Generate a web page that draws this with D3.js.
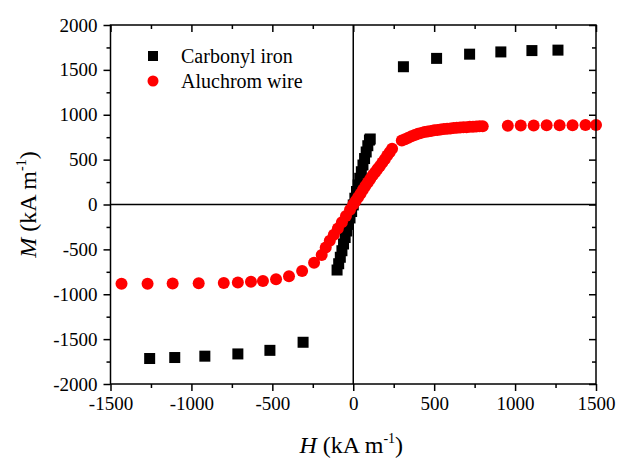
<!DOCTYPE html>
<html>
<head>
<meta charset="utf-8">
<script src="https://cdn.jsdelivr.net/npm/d3@7"></script>
<style>
  html, body { margin: 0; padding: 0; background: #fff; }
  svg text { font-family: "Liberation Serif", "Times New Roman", serif; fill: #000; }
</style>
</head>
<body>
<svg id="chart" width="619" height="458"></svg>
<script>
// Magnetisation curves M(H)

// Carbonyl iron: field H (kA/m) and magnetisation M (kA/m)
const ironH = [-1258, -1103, -917, -713, -515, -310,
  -100, -90, -80, -70, -60, -50, -40, -30, -20, -10, 0,
  10, 20, 30, 40, 50, 60, 70, 80, 90, 100, 105,
  310, 515, 719, 912, 1104, 1265];
const ironM = [-1716, -1705, -1690, -1665, -1625, -1535,
  -730, -660, -588, -515, -440, -368, -295, -222, -150, -78, -5,
  70, 145, 218, 292, 365, 440, 512, 585, 655, 718, 730,
  1535, 1628, 1675, 1700, 1715, 1720];

// Aluchrom wire
const wireH = [-1432, -1271, -1116, -955, -800, -713, -632, -558, -477, -397, -316, -242,
  -195, -170, -145, -120, -95, -70, -45, -20,
  0, 15, 30, 45, 60, 75, 90, 105, 120, 135, 150, 165, 180, 195, 210, 225, 240,
  300, 320, 340, 360, 380, 400, 420, 440, 460, 480, 500, 520, 540, 560, 580, 600,
  620, 640, 660, 680, 700, 720, 740, 760, 780, 800,
  955, 1035, 1115, 1195, 1275, 1355, 1435, 1500];
const wireM = [-882, -882, -880, -878, -874, -868, -862, -853, -834, -800, -740, -648,
  -562, -478, -405, -338, -268, -198, -128, -58,
  0, 40, 80, 120, 165, 205, 245, 285, 325, 360, 395, 430, 468, 505, 545, 582, 622,
  712, 728, 745, 760, 775, 788, 798, 807, 814, 820, 826, 831, 836, 840, 844, 848,
  851, 854, 857, 860, 862, 865, 867, 869, 871, 872,
  878, 880, 881, 882, 883, 884, 885, 886];

// Axis ticks
const xMajor = [-1500, -1000, -500, 0, 500, 1000, 1500];
const xMinor = [-1250, -750, -250, 250, 750, 1250];
const yMajor = [-2000, -1500, -1000, -500, 0, 500, 1000, 1500, 2000];
const yMinor = [-1750, -1250, -750, -250, 250, 750, 1250, 1750];

const seriesNames = ["Carbonyl iron", "Aluchrom wire"];
const seriesColors = ["#000000", "#ff0000"];

const serif = '"Liberation Serif", "Times New Roman", serif';
const svg = d3.select("#chart");
const pL = 110.5, pR = 596, pT = 25, pB = 384;

const x = d3.scaleLinear().domain([-1500, 1500]).range([pL, pR]);
const y = d3.scaleLinear().domain([-2000, 2000]).range([pB, pT]);

const fmt = d => String(d);

// zero lines
svg.append("line").attr("x1", pL).attr("x2", pR)
  .attr("y1", y(0)).attr("y2", y(0)).attr("stroke", "#000").attr("stroke-width", 1.5);
svg.append("line").attr("x1", x(0)).attr("x2", x(0))
  .attr("y1", pT).attr("y2", pB).attr("stroke", "#000").attr("stroke-width", 1.5);

// data marks
const plot = svg.append("g");
const sq = 11;
plot.selectAll("rect.iron").data(d3.range(ironH.length)).join("rect")
  .attr("class", "iron")
  .attr("x", i => x(ironH[i]) - sq / 2)
  .attr("y", i => y(ironM[i]) - sq / 2)
  .attr("width", sq).attr("height", sq)
  .attr("fill", seriesColors[0]);

plot.selectAll("circle.wire").data(d3.range(wireH.length)).join("circle")
  .attr("class", "wire")
  .attr("cx", i => x(wireH[i]))
  .attr("cy", i => y(wireM[i]))
  .attr("r", 6)
  .attr("fill", seriesColors[1]);

// axes
function styleAxis(g) {
  g.attr("font-family", null).attr("font-size", null);
  g.select(".domain").remove();
  g.selectAll(".tick line").attr("stroke", "#000").attr("stroke-width", 1.5);
  g.selectAll(".tick text").style("font-size", "19px").style("font-family", serif);
}

const gx = svg.append("g").attr("transform", `translate(0,${pB})`)
  .call(d3.axisBottom(x).tickValues(xMajor).tickSizeInner(7).tickSizeOuter(0).tickPadding(6).tickFormat(fmt));
styleAxis(gx);
const gxm = svg.append("g").attr("transform", `translate(0,${pB})`)
  .call(d3.axisBottom(x).tickValues(xMinor).tickSizeInner(4).tickSizeOuter(0).tickFormat(""));
styleAxis(gxm);

const gy = svg.append("g").attr("transform", `translate(${pL},0)`)
  .call(d3.axisLeft(y).tickValues(yMajor).tickSizeInner(7).tickSizeOuter(0).tickPadding(6).tickFormat(fmt));
styleAxis(gy);
const gym = svg.append("g").attr("transform", `translate(${pL},0)`)
  .call(d3.axisLeft(y).tickValues(yMinor).tickSizeInner(4).tickSizeOuter(0).tickFormat(""));
styleAxis(gym);

// mirrored ticks on top and right, pointing inward
const gt = svg.append("g").attr("transform", `translate(0,${pT})`)
  .call(d3.axisTop(x).tickValues(xMajor).tickSizeInner(-7).tickSizeOuter(0).tickFormat(""));
styleAxis(gt);
const gtm = svg.append("g").attr("transform", `translate(0,${pT})`)
  .call(d3.axisTop(x).tickValues(xMinor).tickSizeInner(-4).tickSizeOuter(0).tickFormat(""));
styleAxis(gtm);
const gr = svg.append("g").attr("transform", `translate(${pR},0)`)
  .call(d3.axisRight(y).tickValues(yMajor).tickSizeInner(-7).tickSizeOuter(0).tickFormat(""));
styleAxis(gr);
const grm = svg.append("g").attr("transform", `translate(${pR},0)`)
  .call(d3.axisRight(y).tickValues(yMinor).tickSizeInner(-4).tickSizeOuter(0).tickFormat(""));
styleAxis(grm);

// frame
svg.append("rect").attr("x", pL).attr("y", pT)
  .attr("width", pR - pL).attr("height", pB - pT)
  .attr("fill", "none").attr("stroke", "#000").attr("stroke-width", 1.5);

// axis titles
function title(sel, letter) {
  sel.style("font-family", serif).style("font-size", "24px");
  sel.append("tspan").attr("font-style", "italic").text(letter);
  sel.append("tspan").text(" (kA m");
  sel.append("tspan").style("font-size", "14px").attr("dy", -10).text("-1");
  sel.append("tspan").attr("dy", 10).text(")");
}
const xt = svg.append("text").attr("x", (pL + pR) / 2 - 2).attr("y", 453)
  .attr("text-anchor", "middle");
title(xt, "H");
const yt = svg.append("text")
  .attr("transform", `translate(36,${(pT + pB) / 2}) rotate(-90)`)
  .attr("text-anchor", "middle");
title(yt, "M");

// legend
const legend = svg.append("g");
seriesNames.forEach((name, i) => {
  const ly = 56 + i * 25;
  if (i === 0) {
    legend.append("rect").attr("x", 148).attr("y", ly - 5).attr("width", 10).attr("height", 10)
      .attr("fill", seriesColors[i]);
  } else {
    legend.append("circle").attr("cx", 153).attr("cy", ly).attr("r", 5.5).attr("fill", seriesColors[i]);
  }
  legend.append("text").attr("x", 181).attr("y", ly + 7)
    .style("font-family", serif).style("font-size", "20px").text(name);
});
</script>
</body>
</html>
